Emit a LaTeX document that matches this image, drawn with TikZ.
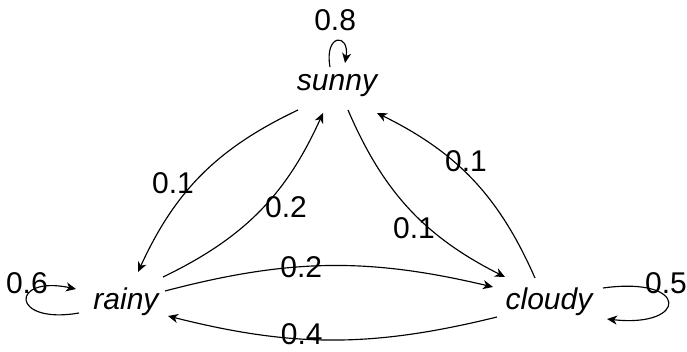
\documentclass[tikz,border=0pt]{standalone}
\usepackage{fontspec}
\setmainfont{Liberation Sans}
\usetikzlibrary{arrows.meta}
\begin{document}
\begin{tikzpicture}[x=1pt,y=-1pt,
  state/.style={inner sep=0pt, font=\fontsize{30}{36}\selectfont\itshape, anchor=base},
  prob/.style={font=\fontsize{30}{36}\selectfont, inner sep=0pt},
  edge/.style={line width=1.15pt, -{Stealth[length=10pt,width=9pt,inset=3pt]}}]
\useasboundingbox (0,0) rectangle (687,352);
\node[state] (sunny) at (337,91) {sunny};
\node[state] (rainy) at (126,309) {rainy};
\node[state] (cloudy) at (549,309) {cloudy};
% sunny <-> rainy
\draw[edge] ([shift={(-39,19)}]sunny.base) to[bend right=20]
  node[prob, xshift=-28.7pt, yshift=-8.1pt] (lsr) {0.1} ([shift={(12,-37)}]rainy.base);
\draw[edge] ([shift={(37,-32)}]rainy.base) to[bend right=20]
  node[prob, xshift=26.5pt, yshift=4pt] (lrs) {0.2} ([shift={(-14,22)}]sunny.base);
% sunny <-> cloudy
\draw[edge] ([shift={(11,19)}]sunny.base) to[bend right=20]
  node[prob, xshift=4.3pt, yshift=-18.7pt] (lsc) {0.1} ([shift={(-44,-32)}]cloudy.base);
\draw[edge] ([shift={(-14,-31)}]cloudy.base) to[bend right=20]
  node[prob, xshift=-6.5pt, yshift=18.7pt] (lcs) {0.1} ([shift={(40,22)}]sunny.base);
% rainy <-> cloudy
\draw[edge] ([shift={(39,-18)}]rainy.base) to[bend left=14]
  node[prob, pos=0.41] (lrc) {0.2} ([shift={(-56,-22)}]cloudy.base);
\draw[edge] ([shift={(-52,8)}]cloudy.base) to[bend left=14]
  node[prob, pos=0.6, yshift=4.5pt] (lcr) {0.4} ([shift={(42,7)}]rainy.base);
% self loops
\draw[edge] ([shift={(-7,-24)}]sunny.base) .. controls +(-6,-34) and +(5,-30) ..
  node[prob, pos=0.5, xshift=-2pt, yshift=21pt] (lss) {0.8} ([shift={(8,-28)}]sunny.base);
\draw[edge] ([shift={(-47,4)}]rainy.base) .. controls +(-69,12) and +(-66,-14) ..
  node[prob, pos=0.5, yshift=17pt] (lrr) {0.6} ([shift={(-50,-20)}]rainy.base);
\draw[edge] ([shift={(54,-21)}]cloudy.base) .. controls +(87,-12) and +(81,9) ..
  node[prob, pos=0.5, xshift=-2pt, yshift=19.4pt] (lcc) {0.5} ([shift={(58,10)}]cloudy.base);
\end{tikzpicture}
\end{document}
